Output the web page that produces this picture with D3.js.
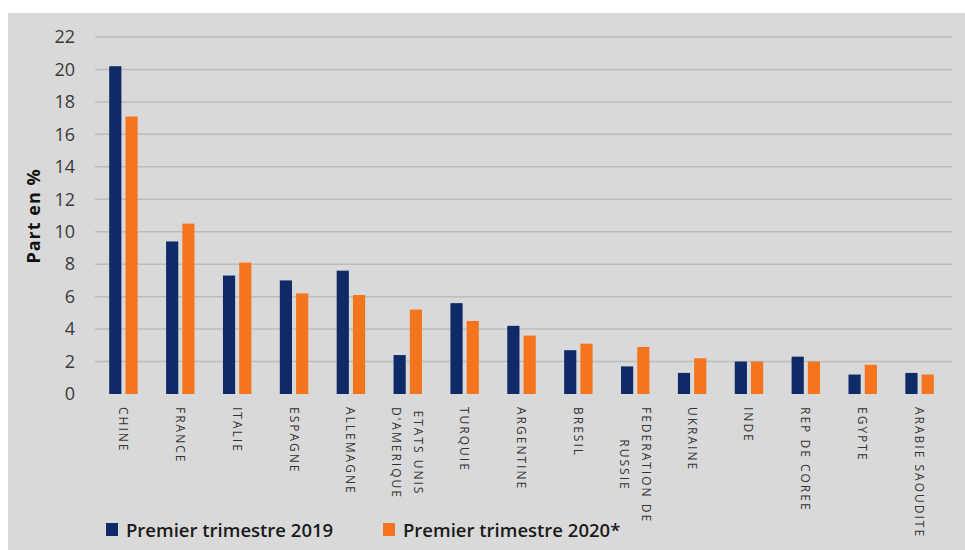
<!DOCTYPE html>
<html>
<head>
<meta charset="utf-8">
<script src="https://cdn.jsdelivr.net/npm/d3@7"></script>
<style>
  body { margin: 0; background: #ffffff; }
  svg { display: block; }
</style>
</head>
<body>
<div id="chart"></div>
<script>
// categories, one entry per country (lines split where the label wraps)
var countries = [
    ["CHINE"], ["FRANCE"], ["ITALIE"], ["ESPAGNE"], ["ALLEMAGNE"],
    ["ETATS UNIS", "D'AMERIQUE"], ["TURQUIE"], ["ARGENTINE"], ["BRESIL"],
    ["FEDERATION DE", "RUSSIE"], ["UKRAINE"], ["INDE"], ["REP DE COREE"],
    ["EGYPTE"], ["ARABIE SAOUDITE"]
];
var seriesNames = ["Premier trimestre 2019", "Premier trimestre 2020*"];
var values2019 = [20.2, 9.4, 7.3, 7.0, 7.6, 2.4, 5.6, 4.2, 2.7, 1.7, 1.3, 2.0, 2.3, 1.2, 1.3];
var values2020 = [17.1, 10.5, 8.1, 6.2, 6.1, 5.2, 4.5, 3.6, 3.1, 2.9, 2.2, 2.0, 2.0, 1.8, 1.2];
var yTicks = [0, 2, 4, 6, 8, 10, 12, 14, 16, 18, 20, 22];

var W = 965, H = 550;
var margin = {top: 37, right: 17, bottom: 156, left: 95},
    width = W - margin.left - margin.right,
    height = H - margin.top - margin.bottom;

var colors = ["#0f2a66", "#f5751f"];

var svg = d3.select("#chart").append("svg")
    .attr("width", W)
    .attr("height", H);

// grey panel
svg.append("rect")
    .attr("x", 8).attr("y", 13)
    .attr("width", W - 8).attr("height", H - 13)
    .attr("fill", "#d9d9d9");

var g = svg.append("g")
    .attr("transform", "translate(" + margin.left + "," + margin.top + ")");

var keys = countries.map(function(d) { return d.join(" "); });

var x0 = d3.scaleBand().domain(keys).range([0, width])
    .paddingInner(0.5).paddingOuter(0.25);
var x1 = d3.scaleBand().domain([0, 1]).range([0, x0.bandwidth()]).paddingInner(0.25);
var y = d3.scaleLinear().domain([0, 22]).range([height, 0]);

// gridlines
g.selectAll(".grid")
    .data(yTicks.filter(function(d) { return d > 0; }))
    .enter().append("line")
    .attr("class", "grid")
    .attr("x1", 0).attr("x2", width + 4)
    .attr("y1", function(d) { return y(d); })
    .attr("y2", function(d) { return y(d); })
    .attr("stroke", "#bcbcbc")
    .attr("stroke-width", 1.5);

// y axis
var yAxis = g.append("g")
    .attr("class", "y axis")
    .call(d3.axisLeft(y).tickValues(yTicks).tickSize(0).tickPadding(20));
yAxis.select(".domain").remove();
yAxis.selectAll("text")
    .attr("font-family", "'Open Sans', sans-serif")
    .attr("font-size", "18px")
    .attr("fill", "#3a3a3a");

svg.append("text")
    .attr("transform", "translate(40,216) rotate(-90)")
    .attr("text-anchor", "middle")
    .attr("font-family", "'Open Sans', sans-serif")
    .attr("font-weight", "bold")
    .attr("font-size", "18px")
    .attr("letter-spacing", "1px")
    .attr("fill", "#111")
    .text("Part en %");

// bars
var rows = keys.map(function(k, i) { return {key: k, vals: [values2019[i], values2020[i]]}; });

var groups = g.selectAll(".country")
    .data(rows)
    .enter().append("g")
    .attr("class", "country")
    .attr("transform", function(d) { return "translate(" + x0(d.key) + ",0)"; });

groups.selectAll("rect")
    .data(function(d) { return d.vals; })
    .enter().append("rect")
    .attr("x", function(d, i) { return x1(i); })
    .attr("y", function(d) { return y(d); })
    .attr("width", x1.bandwidth())
    .attr("height", function(d) { return height - y(d); })
    .attr("fill", function(d, i) { return colors[i]; });

// rotated category labels
var labelTop = margin.top + height + 13;
countries.forEach(function(lines, i) {
    var cx = margin.left + x0(keys[i]) + x0.bandwidth() / 2;
    var n = lines.length;
    var lab = svg.append("g");
    var texts = lines.map(function(t, j) {
        return lab.append("text")
            .attr("font-family", "'Open Sans', sans-serif")
            .attr("font-size", "12px")
            .attr("letter-spacing", "2px")
            .attr("fill", "#333")
            .attr("dominant-baseline", "central")
            .attr("text-anchor", "middle")
            .text(t);
    });
    var longest = d3.max(texts, function(t) { return t.node().getComputedTextLength(); });
    texts.forEach(function(t, j) {
        var off = (j - (n - 1) / 2) * 22;
        t.attr("transform", "translate(" + (cx - off) + "," + (labelTop + longest / 2) + ") rotate(90)");
    });
});

// legend
var legend = svg.append("g");
var legendX = [106, 383];
seriesNames.forEach(function(name, i) {
    legend.append("rect")
        .attr("x", legendX[i]).attr("y", 523)
        .attr("width", 12).attr("height", 13)
        .attr("fill", colors[i]);
    legend.append("text")
        .attr("x", legendX[i] + 20).attr("y", 537)
        .attr("font-family", "'Open Sans', sans-serif")
        .attr("font-weight", 600)
        .attr("font-size", "18.5px")
        .attr("fill", "#1a1a1a")
        .text(name);
});
</script>
</body>
</html>
